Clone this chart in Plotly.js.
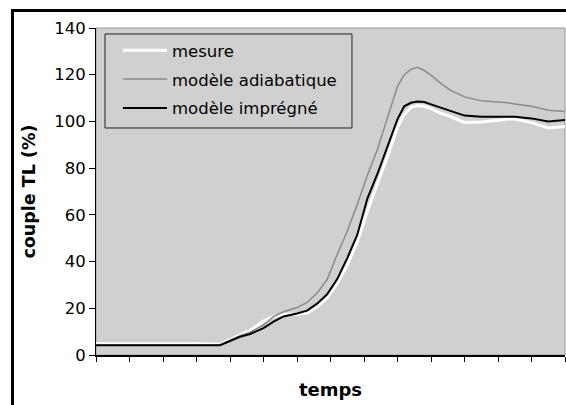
<!DOCTYPE html>
<html>
<head>
<meta charset="utf-8">
<script src="https://cdn.plot.ly/plotly-3.0.1.min.js"></script>
<style>
  html, body { margin: 0; padding: 0; background: #fff; }
  #wrap { position: relative; width: 566px; height: 405px; overflow: hidden; }
  #chart { width: 566px; height: 405px; }
  #frame { position: absolute; left: 11px; top: 9px; width: 600px; height: 450px;
           border-top: 3px solid #000; border-left: 3px solid #000; pointer-events: none; }
</style>
</head>
<body>
<div id="wrap">
  <div id="chart"></div>
  <div id="frame"></div>
</div>
<script>
// time samples (arbitrary units along "temps")
const temps = [0, 1, 2, 3, 3.7, 4.0, 4.3, 4.6, 5.0, 5.3, 5.6, 6.0, 6.3, 6.6, 6.9, 7.2, 7.5, 7.8, 8.1, 8.4, 8.7, 9.0, 9.2, 9.4, 9.6, 9.8, 10.0, 10.3, 10.6, 11.0, 11.5, 12.0, 12.3, 12.5, 13.0, 13.5, 14.0];

// couple TL (%)
const mesure = [4.8, 4.8, 5.0, 4.8, 4.6, 6.5, 8.5, 10.5, 14.5, 16.5, 17.5, 17.5, 18.0, 20.5, 24.5, 30.5, 38.5, 48.5, 61.5, 73.0, 85.0, 97.5, 103.0, 106.0, 106.8, 106.5, 105.5, 103.5, 102.0, 99.5, 99.8, 100.5, 101.0, 101.0, 99.5, 97.2, 97.8];
const adiabatique = [4.2, 4.2, 4.2, 4.2, 4.2, 6.3, 8.3, 9.8, 12.8, 16.5, 18.5, 20.3, 22.5, 26.5, 32.3, 43.0, 53.0, 64.5, 77.0, 88.0, 101.0, 115.0, 120.0, 122.3, 123.2, 121.8, 119.8, 116.2, 113.2, 110.5, 108.8, 108.4, 108.0, 107.5, 106.5, 104.8, 104.2];
const impregne = [4.2, 4.2, 4.2, 4.2, 4.2, 6.0, 7.8, 9.0, 11.5, 14.3, 16.5, 17.8, 19.0, 22.0, 26.0, 32.5, 41.5, 51.5, 67.0, 77.5, 89.0, 101.0, 106.5, 108.0, 108.5, 108.3, 107.3, 105.8, 104.5, 102.5, 102.0, 102.0, 102.3, 102.0, 101.3, 100.0, 100.6];

const seriesNames = ["mesure", "modèle adiabatique", "modèle imprégné"];
const yTicks = [0, 20, 40, 60, 80, 100, 120, 140];
const xTicks = [0, 1, 2, 3, 4, 5, 6, 7, 8, 9, 10, 11, 12, 13, 14];

const FONT = "DejaVu Sans, Arial, sans-serif";

const traces = [
  { x: temps, y: mesure, name: seriesNames[0], mode: "lines", legendgroup: "a",
    line: { color: "#ffffff", width: 3 } },
  { x: temps, y: adiabatique, name: seriesNames[1], mode: "lines", legendgroup: "b",
    line: { color: "#8a8a8a", width: 1.5 } },
  { x: temps, y: impregne, name: seriesNames[2], mode: "lines", legendgroup: "c",
    line: { color: "#000000", width: 2 } }
];

const layout = {
  width: 566, height: 405,
  margin: { l: 96, r: 1, t: 28, b: 50 },
  paper_bgcolor: "#ffffff",
  plot_bgcolor: "#d0d0d0",
  font: { family: FONT, size: 16, color: "#000" },
  showlegend: true,
  legend: {
    x: 0.0469, y: 0.985, xanchor: "left", yanchor: "top",
    bgcolor: "rgba(0,0,0,0)", borderwidth: 0,
    font: { family: FONT, size: 16.5, color: "#000" },
    itemwidth: 44,
    tracegroupgap: 4.5
  },
  xaxis: {
    range: [0, 14], tickvals: xTicks, showticklabels: false,
    ticks: "outside", ticklen: 5, tickwidth: 1, tickcolor: "#000",
    showgrid: false, zeroline: false,
    showline: true, linecolor: "#000", linewidth: 2,
    title: { text: "<b>temps</b>", font: { family: FONT, size: 18, color: "#000" }, standoff: 22 }
  },
  yaxis: {
    range: [0, 140], tickvals: yTicks,
    ticks: "outside", ticklen: 6, tickwidth: 1, tickcolor: "#000",
    showgrid: false, zeroline: false,
    showline: true, linecolor: "#000", linewidth: 1,
    tickfont: { family: FONT, size: 16.5, color: "#000" },
    title: { text: "<b>couple TL (%)</b>", font: { family: FONT, size: 17.5, color: "#000" }, standoff: 14 }
  },
  shapes: [
    { type: "rect", xref: "paper", yref: "paper", x0: 0, x1: 1, y0: 0, y1: 1,
      line: { color: "#9a9a9a", width: 1 }, layer: "below" },
    { type: "rect", xref: "paper", yref: "paper", x0: 0.0192, x1: 0.5458, y0: 0.6942, y1: 0.9817,
      line: { color: "#222", width: 1 }, fillcolor: "rgba(0,0,0,0)", layer: "above" }
  ]
};

Plotly.newPlot("chart", traces, layout, { staticPlot: true, displayModeBar: false });
</script>
</body>
</html>
